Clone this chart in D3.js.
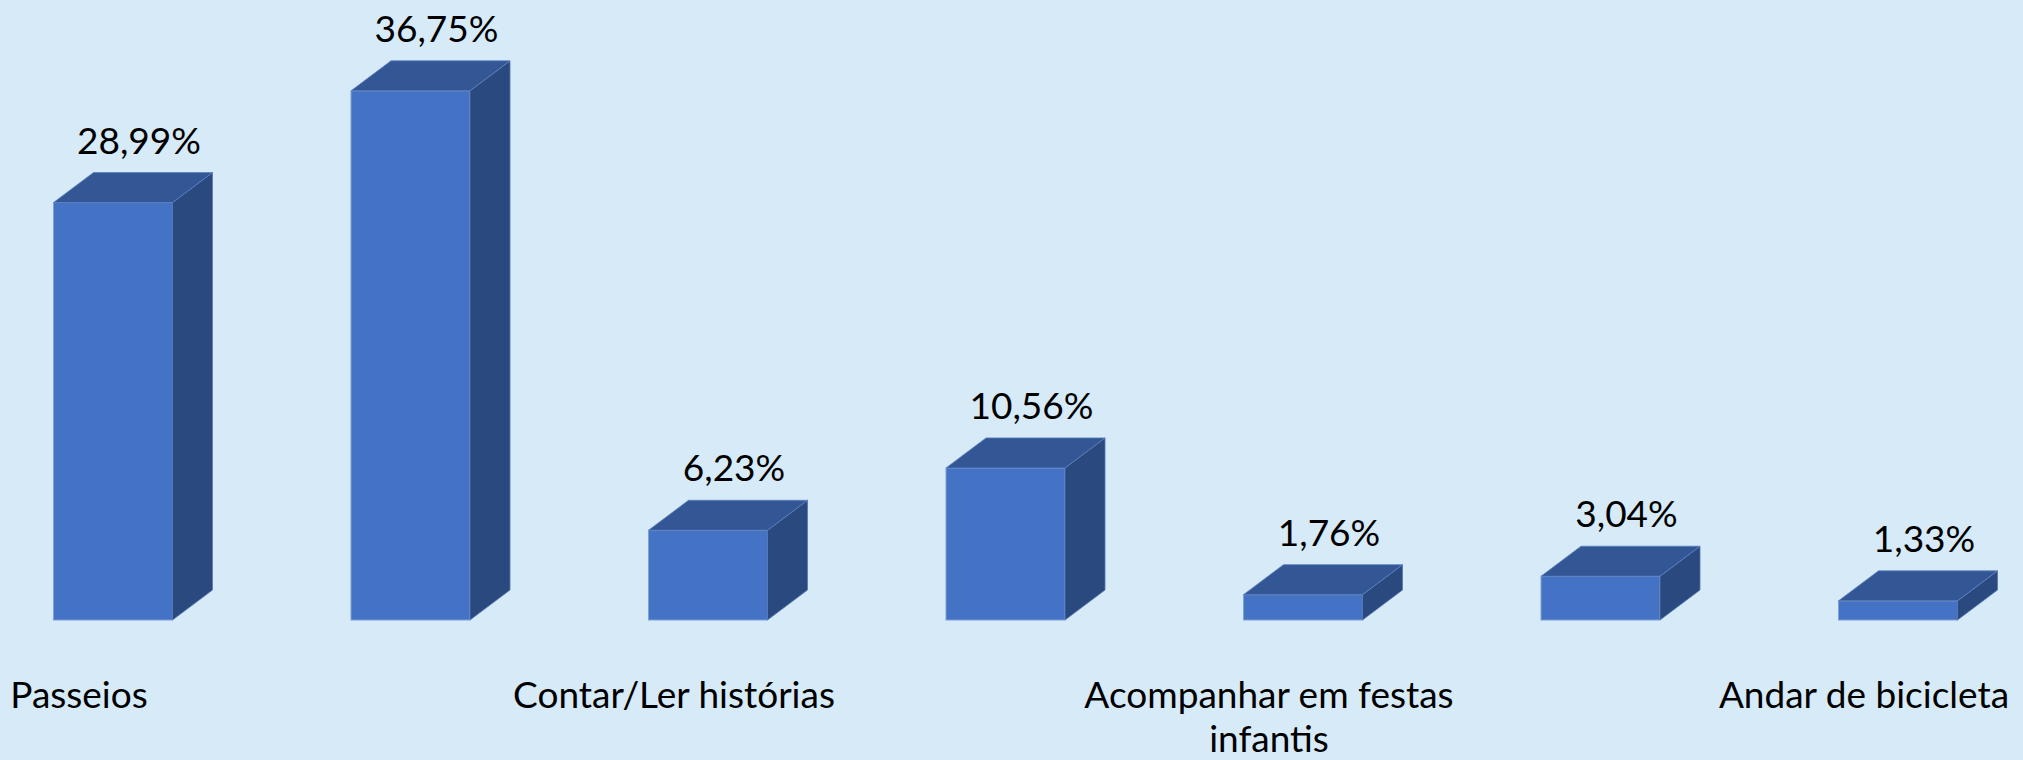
<!DOCTYPE html>
<html>
<head>
<meta charset="utf-8">
<script src="https://cdn.jsdelivr.net/npm/d3@7"></script>
<style>
  html, body { margin: 0; padding: 0; background: #D6EAF8; }
  svg { display: block; }
  text { font-family: Lato, "Open Sans", sans-serif; fill: #000; }
</style>
</head>
<body>
<svg id="chart"></svg>
<script>
(function(){
    var width = 2023, height = 760;

    // categories (labels for every other bar are hidden in the original)
    let categories = ["Passeios", "", "Contar/Ler histórias", "", "Acompanhar em festas|infantis", "", "Andar de bicicleta"]
    let values = [28.99, 36.75, 6.23, 10.56, 1.76, 3.04, 1.33]
    let valueLabels = ["28,99%", "36,75%", "6,23%", "10,56%", "1,76%", "3,04%", "1,33%"]

    let data = values.map((v, i) => ({i: i, value: v, label: valueLabels[i], cat: categories[i]}))

    var svg = d3.select("svg#chart")
        .attr("width", width)
        .attr("height", height)

    svg.append("rect")
        .attr("width", width)
        .attr("height", height)
        .attr("fill", "#D6EAF8")

    let xScale = d3.scaleBand()
        .domain(d3.range(values.length))
        .range([-6, 2017])
        .paddingInner(0.6)
        .paddingOuter(0.2)

    let yScale = d3.scaleLinear()
        .domain([0, 40])
        .range([620, 44])

    // 3d depth offset
    let dx = 40, dy = -30

    let bars = svg.selectAll("g.bar")
        .data(data)
        .enter()
        .append("g")
        .attr("class", "bar")

    let bw = xScale.bandwidth()

    // front face
    bars.append("rect")
        .attr("x", (d) => xScale(d.i))
        .attr("y", (d) => yScale(d.value))
        .attr("width", bw)
        .attr("height", (d) => yScale(0) - yScale(d.value))
        .attr("fill", "#4472C4")
        .attr("stroke", "#7f9fd8")
        .attr("stroke-width", 1)

    // side face
    bars.append("path")
        .attr("d", (d) => {
            let x1 = xScale(d.i) + bw, y0 = yScale(0), y1 = yScale(d.value)
            return "M" + x1 + "," + y0 + "L" + x1 + "," + y1 +
                "L" + (x1 + dx) + "," + (y1 + dy) + "L" + (x1 + dx) + "," + (y0 + dy) + "Z"
        })
        .attr("fill", "#2A4A7F")
        .attr("stroke", "#5577b5")
        .attr("stroke-width", 0.8)

    // top face
    bars.append("path")
        .attr("d", (d) => {
            let x0 = xScale(d.i), y1 = yScale(d.value)
            return "M" + x0 + "," + y1 + "L" + (x0 + bw) + "," + y1 +
                "L" + (x0 + bw + dx) + "," + (y1 + dy) + "L" + (x0 + dx) + "," + (y1 + dy) + "Z"
        })
        .attr("fill", "#335694")
        .attr("stroke", "#5d80c0")
        .attr("stroke-width", 0.8)

    // value labels
    bars.append("text")
        .attr("x", (d) => xScale(d.i) + bw / 2 + 26)
        .attr("y", (d) => yScale(d.value) + dy - 19)
        .attr("text-anchor", "middle")
        .attr("font-size", "37px")
        .text((d) => d.label)

    // category labels
    let cats = svg.selectAll("text.cat")
        .data(data.filter((d) => d.cat !== ""))
        .enter()
        .append("text")
        .attr("class", "cat")
        .attr("text-anchor", "middle")
        .attr("font-size", "37px")
        .attr("x", (d) => xScale(d.i) + bw / 2 - 34)
        .attr("y", 708)

    cats.selectAll("tspan")
        .data((d) => d.cat.split("|").map((t) => ({t: t, x: xScale(d.i) + bw / 2 - 34})))
        .enter()
        .append("tspan")
        .attr("x", (t) => t.x)
        .attr("dy", (t, j) => j === 0 ? 0 : 44)
        .text((t) => t.t)
})()
</script>
</body>
</html>
